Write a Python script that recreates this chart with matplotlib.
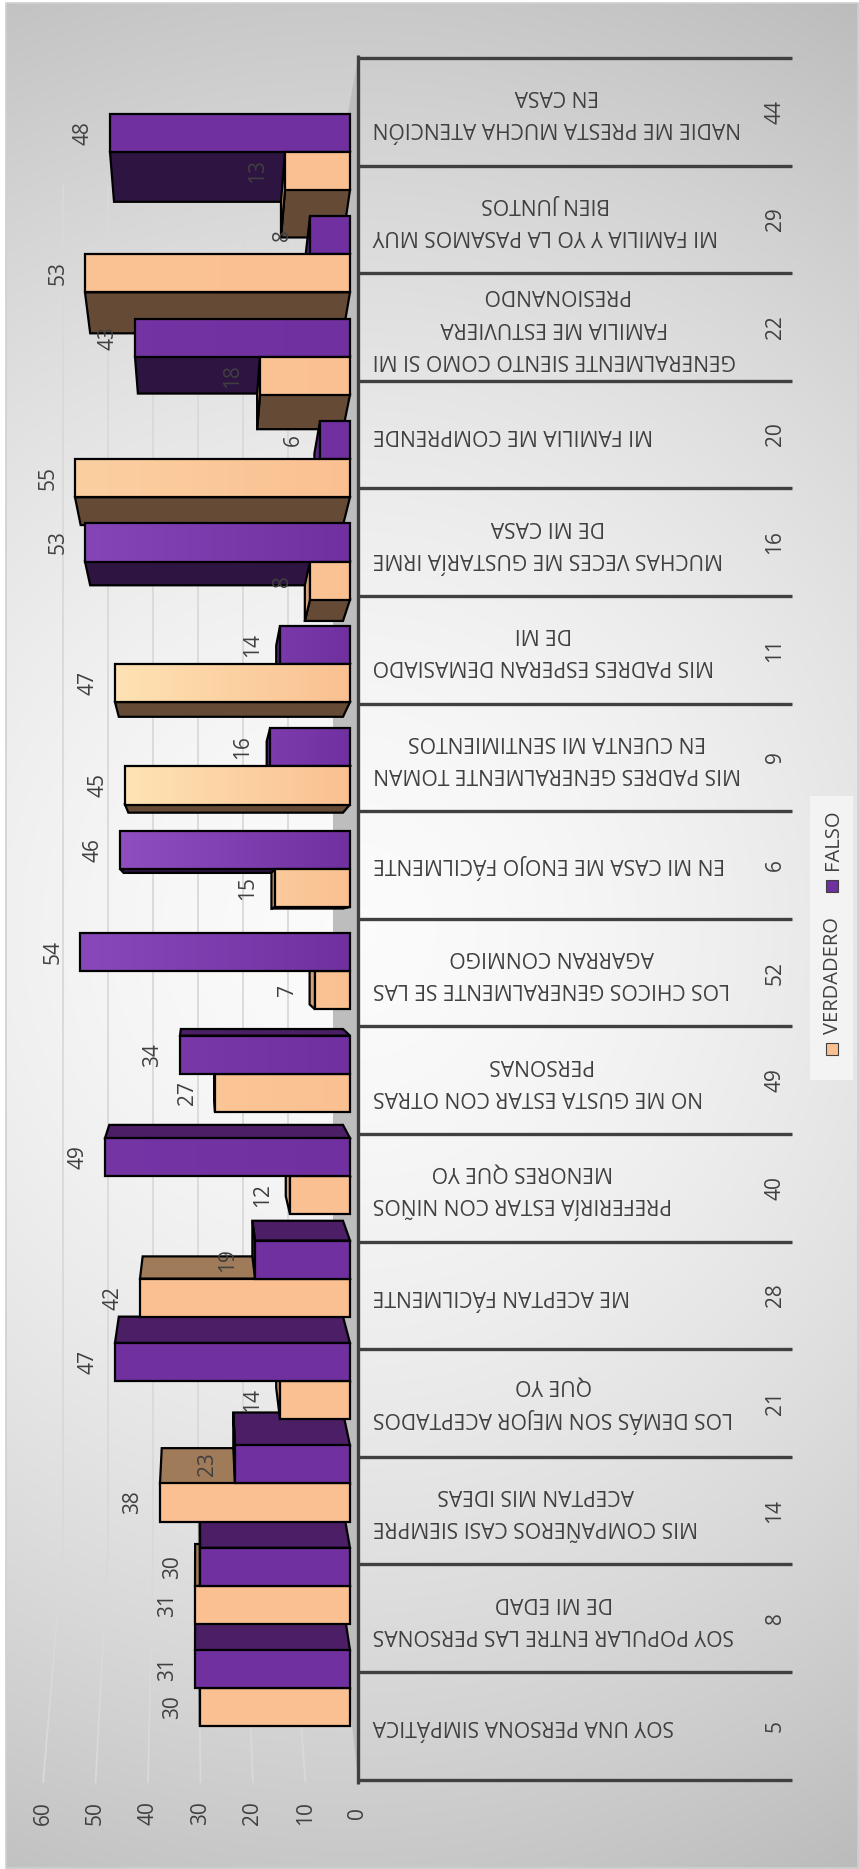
import numpy as np
import matplotlib
matplotlib.use("Agg")
import matplotlib.pyplot as plt
from matplotlib.patches import Polygon, Rectangle
from matplotlib.colors import to_rgb

plt.rcParams['font.family'] = ['Open Sans', 'DejaVu Sans']

# ---------------- data ----------------
codes = ['44', '29', '22', '20', '16', '11', '9', '6', '52', '49', '40', '28',
         '21', '14', '8', '5']
labels = [
    'NADIE ME PRESTA MUCHA ATENCIÓN\nEN CASA',
    'MI FAMILIA Y YO LA PASAMOS MUY\nBIEN JUNTOS',
    'GENERALMENTE SIENTO COMO SI MI\nFAMILIA ME ESTUVIERA\nPRESIONANDO',
    'MI FAMILIA ME COMPRENDE',
    'MUCHAS VECES ME GUSTARÍA IRME\nDE MI CASA',
    'MIS PADRES ESPERAN DEMASIADO\nDE MI',
    'MIS PADRES GENERALMENTE TOMAN\nEN CUENTA MI SENTIMIENTOS',
    'EN MI CASA ME ENOJO FÁCILMENTE',
    'LOS CHICOS GENERALMENTE SE LAS\nAGARRAN CONMIGO',
    'NO ME GUSTA ESTAR CON OTRAS\nPERSONAS',
    'PREFERIRÍA ESTAR CON NIÑOS\nMENORES QUE YO',
    'ME ACEPTAN FÁCILMENTE',
    'LOS DEMÁS SON MEJOR ACEPTADOS\nQUE YO',
    'MIS COMPAÑEROS CASI SIEMPRE\nACEPTAN MIS IDEAS',
    'SOY POPULAR ENTRE LAS PERSONAS\nDE MI EDAD',
    'SOY UNA PERSONA SIMPÁTICA',
]
verdadero = [13, 53, 18, 55, 8, 47, 45, 15, 7, 27, 12, 42, 14, 38, 31, 30]
falso = [48, 8, 43, 6, 53, 14, 16, 46, 54, 34, 49, 19, 47, 23, 30, 31]
value_ticks = [0, 10, 20, 30, 40, 50, 60]
series_names = ['VERDADERO', 'FALSO']

# ---------------- style ----------------
C_PEACH = '#FAC091'
C_PEACH_LIGHT = '#FFE9BA'
C_PURPLE = '#7030A0'
C_PURPLE_LIGHT = '#9656C8'
C_PURPLE_SHADOW = '#2E1441'
C_PURPLE_LIT = '#4B1E66'
C_PURPLE_END = '#5A2A88'
C_PEACH_SHADOW = '#654B36'
C_PEACH_LIT = '#A07B5A'
C_PEACH_END = '#D4A077'
TXT = '#404040'

W, H = 859, 1869
fig = plt.figure(figsize=(W / 100, H / 100), dpi=100)
ax = fig.add_axes([0, 0, 1, 1])

# axis-plane scale: value v -> pixel x, category unit y -> pixel y
X0, XS = 358.0, 5.25
Y0, YS = 58.0, 107.6


def px2v(px):
    return (X0 - px) / XS


def py2y(py):
    return (py - Y0) / YS


ax.set_xlim(px2v(0), px2v(W))
ax.set_ylim(py2y(H), py2y(0))
ax.axis('off')


def Ypix(y):
    return Y0 + YS * y


# perspective planes (bar front / bar back)
def front(v, y):
    return (px2v(350 - 5.0 * v), py2y(45.4 + 0.952 * Ypix(y)))


def back(v, y):
    return (px2v(343 - 4.77 * v), py2y(102.2 + 0.891 * Ypix(y)))


# ---------------- background ----------------
xx, yy = np.meshgrid(np.arange(6, W), np.arange(3, H))
t = np.sqrt(((xx - 350) / 900.0) ** 2 + ((yy - 930) / 930.0) ** 2)
g = np.clip(0.985 - 0.2 * t ** 1.6, 0, 1)
img = np.dstack([g, g, g])
ax.imshow(img, extent=[px2v(6), px2v(W), py2y(H), py2y(3)], origin='upper',
          aspect='auto', zorder=0, interpolation='bilinear')
ax.add_patch(Rectangle((px2v(6), py2y(3)), px2v(W - 1) - px2v(6),
                       py2y(H - 1) - py2y(3), fill=False, ec='#D0D0D0',
                       lw=1.2, zorder=1))

# gridlines: back wall + side wall
for v in value_ticks[1:]:
    xb = px2v(333 - 4.5 * v)
    ax.plot([xb, xb, v], [py2y(185), py2y(1550), py2y(1783)], color='#D9D9D9',
            lw=1.3, zorder=1, solid_capstyle='butt')

# floor
n = len(codes)
floor = [(0, 0), (0, n), (px2v(333), py2y(1550)), (px2v(333), py2y(195))]
ax.add_patch(Polygon(floor, closed=True, fc='#BDBDBD', ec='none', zorder=2))

# ---------------- 3D bars ----------------
w = 0.3717
bars = []
for i in range(n):
    bars.append((falso[i], i + 0.5 - w, i + 0.5, 'F'))
    bars.append((verdadero[i], i + 0.5, i + 0.5 + w, 'V'))

YC = 931.0
bars.sort(key=lambda b: -abs(Ypix((b[1] + b[2]) / 2) - YC))

z = 3
lw = 1.6
for v, y1, y2, kind in bars:
    if kind == 'F':
        cf, cl, csh, clit, cend = (C_PURPLE, C_PURPLE_LIGHT, C_PURPLE_SHADOW,
                                   C_PURPLE_LIT, C_PURPLE_END)
    else:
        cf, cl, csh, clit, cend = (C_PEACH, C_PEACH_LIGHT, C_PEACH_SHADOW,
                                   C_PEACH_LIT, C_PEACH_END)
    Y1, Y2 = Ypix(y1), Ypix(y2)
    if 102.2 + 0.891 * Y2 > 45.4 + 0.952 * Y2:
        poly = [front(0, y2), front(v, y2), back(v, y2), back(0, y2)]
        ax.add_patch(Polygon(poly, closed=True, fc=csh, ec='black', lw=lw,
                             zorder=z, joinstyle='miter'))
    if 102.2 + 0.891 * Y1 < 45.4 + 0.952 * Y1:
        poly = [front(0, y1), front(v, y1), back(v, y1), back(0, y1)]
        ax.add_patch(Polygon(poly, closed=True, fc=clit, ec='black', lw=lw,
                             zorder=z, joinstyle='miter'))
    if (343 - 4.77 * v) < (350 - 5.0 * v):
        poly = [front(v, y1), front(v, y2), back(v, y2), back(v, y1)]
        ax.add_patch(Polygon(poly, closed=True, fc=cend, ec='black', lw=lw,
                             zorder=z, joinstyle='miter'))
    # front face with lighting gradient
    poly = [front(0, y1), front(v, y1), front(v, y2), front(0, y2)]
    fp = Polygon(poly, closed=True, fc=cf, ec='none', zorder=z)
    ax.add_patch(fp)
    yc_pix = 45.4 + 0.952 * Ypix((y1 + y2) / 2)
    inten = np.exp(-((yc_pix - 760) / 280.0) ** 2)
    xs_pix = np.linspace(350 - 5.0 * v, 350, 80)
    f = inten * np.clip((350 - xs_pix) / 260.0, 0, 1)
    c0, c1 = np.array(to_rgb(cf)), np.array(to_rgb(cl))
    row = c0[None, :] + (c1 - c0)[None, :] * f[:, None]
    im = ax.imshow(row[None, :, :], extent=[front(v, y1)[0], front(0, y1)[0],
                                            front(0, y2)[1], front(0, y1)[1]],
                   origin='upper', aspect='auto', zorder=z + 0.001,
                   interpolation='bilinear')
    im.set_clip_path(fp)
    ax.add_patch(Polygon(poly, closed=True, fill=False, ec='black', lw=lw,
                         zorder=z + 0.002, joinstyle='miter'))
    z += 0.01

# data labels
for i in range(n):
    for v, y1, y2 in ((falso[i], i + 0.5 - w, i + 0.5),
                      (verdadero[i], i + 0.5, i + 0.5 + w)):
        fx, fy = front(v, (y1 + y2) / 2)
        lx = px2v((350 - 5.0 * v) - 27)
        ax.text(lx, fy, str(v), rotation=90, ha='center', va='center',
                fontsize=15, color=TXT, zorder=10)

# ---------------- category axis (table) ----------------
ax.plot([0, 0], [py2y(55), py2y(1784)], color=TXT, lw=2.4, zorder=6,
        solid_capstyle='butt')
for k in range(n + 1):
    ax.plot([0, px2v(792)], [k, k], color=TXT, lw=2.4, zorder=6,
            solid_capstyle='butt')
for i in range(n):
    ax.text(px2v(373), i + 0.5, labels[i], rotation=180, ha='left',
            va='center', multialignment='center', fontsize=15.2, color=TXT,
            linespacing=1.7, zorder=7)
    ax.text(px2v(775), i + 0.5, codes[i], rotation=90, ha='center',
            va='center', fontsize=15, color=TXT, zorder=7)

# value tick labels
for v in value_ticks:
    ax.text(v, py2y(1813), str(v), rotation=90, ha='center', va='center',
            fontsize=15, color=TXT, zorder=7)

# ---------------- legend ----------------
ax.add_patch(Rectangle((px2v(810), py2y(796)), px2v(853) - px2v(810),
                       py2y(1080) - py2y(796), fc='#F3F3F3', ec='none',
                       zorder=6))
leg_items = [(series_names[0], C_PEACH, 1049, 976),
             (series_names[1], C_PURPLE, 886, 840)]
for name, col, sq_y, tx_y in leg_items:
    ax.add_patch(Rectangle((px2v(826), py2y(sq_y - 6)), px2v(838) - px2v(826),
                           py2y(sq_y + 6) - py2y(sq_y - 6), fc=col, ec=TXT,
                           lw=0.8, zorder=7))
    ax.text(px2v(833), py2y(tx_y), name, rotation=90, ha='center', va='center',
            fontsize=14.5, color=TXT, zorder=7)

fig.savefig('out.png', dpi=100)
